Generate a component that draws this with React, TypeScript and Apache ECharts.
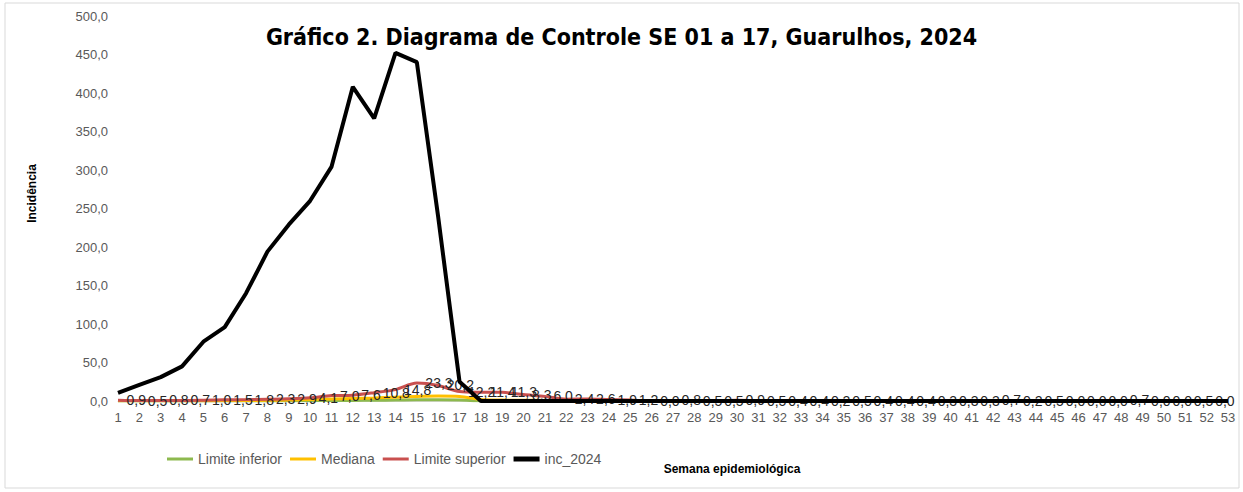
import React, { useEffect, useRef } from "react";
import * as echarts from "echarts";

const weeks: string[] = Array.from({ length: 53 }, (_, i) => String(i + 1));

const limiteInferior: number[] = [
  0, 0, 0, 0, 0, 0, 0, 0, 0.2, 0.4, 0.6, 0.8, 1.0, 1.2, 1.5, 1.5, 1.2, 0.3, 0, 0,
  0, 0, 0, 0, 0, 0, 0, 0, 0, 0, 0, 0, 0, 0, 0, 0, 0, 0, 0, 0,
  0, 0, 0, 0, 0, 0, 0, 0, 0, 0, 0, 0, 0,
];

const mediana: number[] = [
  0.2, 0.2, 0.3, 0.3, 0.4, 0.5, 0.7, 0.9, 1.2, 1.8, 2.5, 3.2, 4.0, 5.0, 6.0, 6.5, 6.0, 2.0, 1.2, 1.0,
  0.8, 0.6, 0.5, 0.4, 0.3, 0.2, 0.2, 0.2, 0.2, 0.2, 0.2, 0.1, 0.1, 0.1, 0.1, 0.1, 0.1, 0.1, 0.1, 0.1,
  0.1, 0.1, 0.1, 0.1, 0.1, 0, 0, 0, 0, 0, 0, 0, 0,
];

const limiteSuperior: number[] = [
  0.9, 0.5, 0.8, 0.7, 1.0, 1.5, 1.8, 2.3, 2.9, 4.1, 7.0, 7.6, 10.8, 14.8, 23.3, 20.2, 12.2, 11.4, 11.3, 8.3,
  6.0, 2.4, 2.6, 1.9, 1.2, 0.0, 0.8, 0.5, 0.5, 0.9, 0.5, 0.4, 0.4, 0.2, 0.5, 0.4, 0.4, 0.4, 0.3, 0.3,
  0.3, 0.7, 0.2, 0.5, 0.0, 0.0, 0.0, 0.7, 0.0, 0.0, 0.5, 0.0, 0.0,
];

const inc2024: number[] = [
  10.5, 21, 31, 45, 77, 96, 140, 194, 229, 260, 304, 408, 367, 452, 440, 239, 25, 0, 0, 0,
  0, 0, 0, 0, 0, 0, 0, 0, 0, 0, 0, 0, 0, 0, 0, 0, 0, 0, 0, 0,
  0, 0, 0, 0, 0, 0, 0, 0, 0, 0, 0, 0, 0,
];

const fmt = (v: number) => v.toFixed(1).replace(".", ",");
const FONT = "'Liberation Sans', Arial, sans-serif";
const RED = "#C9504F";

export default function App() {
  const ref = useRef<HTMLDivElement>(null);
  useEffect(() => {
    if (!ref.current) return;
    const chart = echarts.init(ref.current, null, { renderer: "svg" });
    const lastIdx = limiteSuperior.length - 1;
    chart.setOption({
      animation: false,
      backgroundColor: "#ffffff",
      title: {
        text: "Gráfico 2. Diagrama de Controle SE 01 a 17, Guarulhos, 2024",
        left: "center",
        top: 25,
        padding: [0, 0, 0, 20],
        textStyle: {
          fontFamily: "'Liberation Sans Narrow', 'DejaVu Sans Condensed', sans-serif",
          fontWeight: "bold",
          fontSize: 23,
          color: "#000000",
        },
      },
      graphic: [
        {
          type: "rect",
          shape: { x: 5, y: 3, width: 1234, height: 485 },
          style: { fill: "none", stroke: "#d9d9d9", lineWidth: 1 },
          silent: true,
        },
      ],
      legend: {
        left: 162,
        top: 447,
        itemWidth: 26,
        itemHeight: 14,
        itemGap: 8,
        textStyle: { color: "#595959", fontSize: 14, fontFamily: FONT },
        data: [
          { name: "Limite inferior", icon: "path://M0 0H26V3H0Z", textStyle: { width: 91 } },
          { name: "Mediana", icon: "path://M0 0H26V3H0Z", textStyle: { width: 49 } },
          { name: "Limite superior", icon: "path://M0 0H26V3H0Z", itemStyle: { color: RED, opacity: 1 }, textStyle: { width: 91 } },
          { name: "inc_2024", icon: "path://M0 0H26V5H0Z", textStyle: { width: 57 } },
        ],
      },
      grid: { left: 118, right: 15, top: 16, bottom: 91, containLabel: false },
      xAxis: {
        type: "category",
        data: weeks,
        boundaryGap: false,
        name: "Semana epidemiológica",
        nameLocation: "middle",
        nameGap: 62,
        nameTextStyle: {
          fontFamily: FONT,
          fontWeight: "bold",
          fontSize: 12,
          color: "#000000",
          padding: [0, 0, 0, 118],
        },
        axisLine: { show: true, lineStyle: { color: "#d9d9d9" } },
        axisTick: { show: false },
        axisLabel: { color: "#595959", fontSize: 13, fontFamily: FONT, margin: 10, interval: 0 },
        splitLine: { show: false },
      },
      yAxis: {
        type: "value",
        min: 0,
        max: 500,
        interval: 50,
        name: "Incidência",
        nameLocation: "middle",
        nameGap: 80,
        nameRotate: 90,
        nameTextStyle: {
          fontFamily: FONT,
          fontWeight: "bold",
          fontSize: 12,
          color: "#000000",
          padding: [0, 0, 0, 30],
        },
        axisLine: { show: false },
        axisTick: { show: false },
        axisLabel: { color: "#595959", fontSize: 13, fontFamily: FONT, margin: 10, formatter: (v: number) => fmt(v) },
        splitLine: { show: false },
      },
      series: [
        {
          name: "Limite inferior",
          type: "line",
          data: limiteInferior,
          symbol: "none",
          smooth: 0.3,
          color: "#8DB94E",
          lineStyle: { width: 3, color: "#8DB94E" },
        },
        {
          name: "Mediana",
          type: "line",
          data: mediana,
          symbol: "none",
          smooth: 0.3,
          color: "#FFC000",
          lineStyle: { width: 3, color: "#FFC000" },
        },
        {
          name: "Limite superior",
          type: "line",
          data: limiteSuperior.map((v, i) =>
            i === lastIdx ? { value: v, label: { show: false } } : v
          ),
          symbol: "circle",
          symbolSize: 1,
          showSymbol: true,
          showAllSymbol: true,
          smooth: 0.3,
          color: RED,
          itemStyle: { color: "rgba(0,0,0,0)", borderWidth: 0 },
          lineStyle: { width: 3, color: RED },
          label: {
            show: true,
            position: "right",
            distance: 8,
            color: "#262626",
            opacity: 1,
            fontSize: 14,
            fontFamily: FONT,
            formatter: (p: any) => fmt(p.value as number),
          },
          labelLayout: { hideOverlap: false },
        },
        {
          name: "inc_2024",
          type: "line",
          data: inc2024,
          symbol: "none",
          color: "#000000",
          lineStyle: { width: 4, color: "#000000" },
          z: 5,
        },
      ],
    });
    return () => chart.dispose();
  }, []);
  return (
    <div
      ref={ref}
      style={{ position: "absolute", left: 0, top: 0, width: 1243, height: 492 }}
    />
  );
}
